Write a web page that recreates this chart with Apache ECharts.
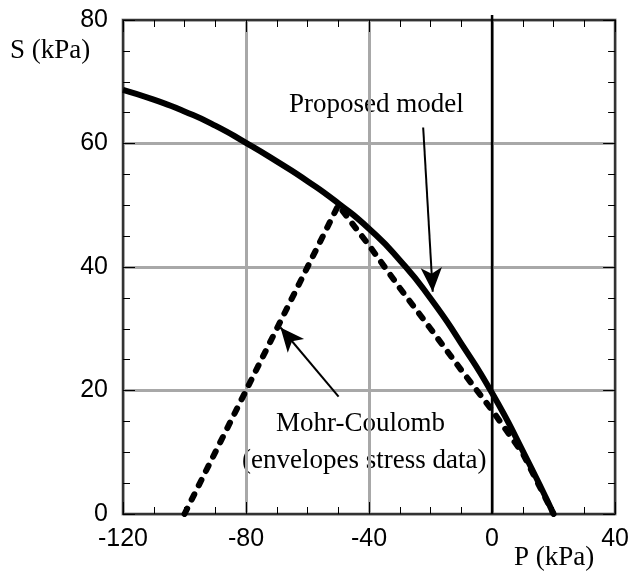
<!DOCTYPE html>
<html>
<head>
<meta charset="utf-8">
<script src="https://cdn.jsdelivr.net/npm/echarts@6/dist/echarts.min.js"></script>
<style>
  html, body { margin: 0; padding: 0; background: #fff; }
  #chart { width: 632px; height: 577px; }
</style>
</head>
<body>
<div id="chart"></div>
<script>
// Pressure P (kPa) and shear S (kPa) along each failure envelope
const modelP = [-120, -110, -100, -90, -80, -70, -60, -50, -40, -30, -20, -10, 0, 10, 20];
const modelS = [68.7, 67.1, 65.2, 62.9, 60.1, 57.1, 53.9, 50.3, 46.2, 41.1, 34.9, 27.6, 19.6, 10.2, 0];

const mcP = [-100, -50, -40, -30, -20, -10, 0, 10, 20];
const mcS = [0, 50, 43.5, 36.6, 30.0, 23.3, 16.8, 9.8, 0];

// Axis ranges and tick spacing
const xTicks = [-120, -80, -40, 0, 40];
const yTicks = [0, 20, 40, 60, 80];

const zip = (xs, ys) => xs.map((x, i) => [x, ys[i]]);

const serif = '"Liberation Serif", "Times New Roman", serif';
const sans = '"Liberation Sans", Arial, Helvetica, sans-serif';

const chart = echarts.init(document.getElementById('chart'));

const gridLine = { show: true, lineStyle: { color: '#a8a8a8', width: 3 } };
const tickStyle = { show: true, inside: true, length: 12, lineStyle: { color: '#000', width: 1 } };
const minorStyle = { show: true, splitNumber: 4, length: 7, lineStyle: { color: '#000', width: 1 } };

function xAxisDef(pos, labels) {
  return {
    type: 'value', position: pos,
    min: xTicks[0], max: xTicks[xTicks.length - 1], interval: 40,
    axisLine: { show: true, onZero: false, lineStyle: { color: '#333', width: 2 } },
    axisTick: tickStyle, minorTick: minorStyle,
    splitLine: labels ? gridLine : { show: false },
    axisLabel: { show: labels, fontSize: 25, color: '#000', fontFamily: sans, margin: 13 }
  };
}
function yAxisDef(pos, labels) {
  return {
    type: 'value', position: pos,
    min: yTicks[0], max: yTicks[yTicks.length - 1], interval: 20,
    axisLine: { show: true, onZero: false, lineStyle: { color: '#333', width: 2 } },
    axisTick: tickStyle, minorTick: minorStyle,
    splitLine: labels ? gridLine : { show: false },
    axisLabel: { show: labels, fontSize: 25, color: '#000', fontFamily: sans, margin: 15 }
  };
}

chart.setOption({
  animation: false,
  backgroundColor: '#fff',
  grid: { left: 123, right: 14, top: 20, bottom: 63, show: true, borderColor: '#999', borderWidth: 3 },
  xAxis: [xAxisDef('bottom', true), xAxisDef('top', false)],
  yAxis: [yAxisDef('left', true), yAxisDef('right', false)],
  series: [
    {
      // vertical reference line at P = 0
      type: 'line', data: [[0, 0], [0, 80.8]], clip: false,
      symbol: 'none', lineStyle: { color: '#000', width: 2.5 }, z: 3
    },
    {
      name: 'Mohr-Coulomb', type: 'line', data: zip(mcP, mcS),
      symbol: 'none', smooth: false,
      lineStyle: { color: '#000', width: 6, type: [6, 10], cap: 'round' }, z: 4
    },
    {
      name: 'Proposed model', type: 'line', data: zip(modelP, modelS),
      symbol: 'none', smooth: 0.6,
      lineStyle: { color: '#000', width: 6 }, z: 5,
      markLine: {
        silent: true, animation: false,
        symbol: ['none', 'arrow'], symbolSize: [16, 24],
        lineStyle: { color: '#000', width: 2, type: 'solid' },
        label: { show: false },
        data: [
          [{ coord: [-22.4, 62.6] }, { coord: [-19.3, 36.0] }],
          [{ coord: [-49.9, 19.0] }, { coord: [-68.8, 30.2] }]
        ]
      }
    }
  ],
  graphic: [
    { type: 'text', left: 10, top: 37, style: { text: 'S (kPa)', font: '27px ' + serif, fill: '#000' } },
    { type: 'text', left: 514, top: 544, style: { text: 'P (kPa)', font: '27px ' + serif, fill: '#000' } },
    { type: 'text', left: 289, top: 91, style: { text: 'Proposed model', font: '27px ' + serif, fill: '#000' } },
    { type: 'text', left: 276, top: 410, style: { text: 'Mohr-Coulomb', font: '27px ' + serif, fill: '#000' } },
    { type: 'text', left: 242, top: 447, style: { text: '(envelopes stress data)', font: '27px ' + serif, fill: '#000' } }
  ]
});
</script>
</body>
</html>
